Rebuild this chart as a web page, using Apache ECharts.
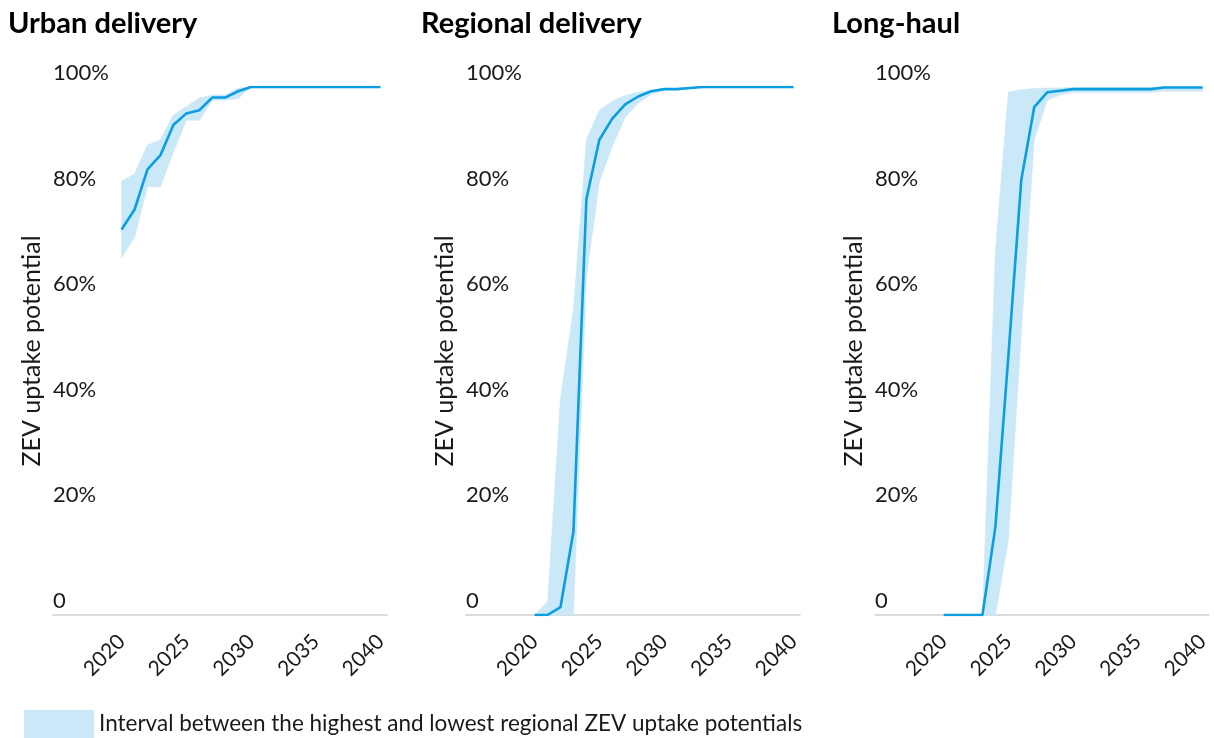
<!DOCTYPE html>
<html>
<head>
<meta charset="utf-8">
<script src="https://cdn.jsdelivr.net/npm/echarts@6/dist/echarts.min.js"></script>
<style>
  html, body { margin: 0; padding: 0; background: #ffffff; }
  #chart { width: 1214px; height: 738px; }
</style>
</head>
<body>
<div id="chart"></div>
<script>
// Years on the horizontal axis and the labelled ticks
const years = [2020, 2021, 2022, 2023, 2024, 2025, 2026, 2027, 2028, 2029, 2030,
               2031, 2032, 2033, 2034, 2035, 2036, 2037, 2038, 2039, 2040];
const xTickValues = [2020, 2025, 2030, 2035, 2040];
const yTickValues = [0, 0.2, 0.4, 0.6, 0.8, 1.0];

const panelTitles = ['Urban delivery', 'Regional delivery', 'Long-haul'];
const yAxisTitle = 'ZEV uptake potential';
const bandName = 'Interval between the highest and lowest regional ZEV uptake potentials';

// Urban delivery: central estimate plus highest / lowest regional values
const urbanCentral = [0.730, 0.768, 0.844, 0.871, 0.928, 0.950, 0.956, 0.980, 0.980, 0.992, 1.0,
                      1.0, 1.0, 1.0, 1.0, 1.0, 1.0, 1.0, 1.0, 1.0, 1.0];
const urbanHigh    = [0.822, 0.835, 0.890, 0.900, 0.947, 0.963, 0.979, 0.985, 0.985, 0.998, 1.0,
                      1.0, 1.0, 1.0, 1.0, 1.0, 1.0, 1.0, 1.0, 1.0, 1.0];
const urbanLow     = [0.677, 0.715, 0.811, 0.811, 0.877, 0.937, 0.937, 0.975, 0.975, 0.978, 1.0,
                      1.0, 1.0, 1.0, 1.0, 1.0, 1.0, 1.0, 1.0, 1.0, 1.0];

// Regional delivery
const regionalCentral = [0, 0, 0.015, 0.158, 0.788, 0.900, 0.940, 0.967, 0.982, 0.992, 0.996,
                         0.996, 0.998, 1.0, 1.0, 1.0, 1.0, 1.0, 1.0, 1.0, 1.0];
const regionalHigh    = [0, 0.025, 0.410, 0.580, 0.900, 0.956, 0.973, 0.984, 0.990, 0.994, 0.996,
                         0.997, 0.999, 1.0, 1.0, 1.0, 1.0, 1.0, 1.0, 1.0, 1.0];
const regionalLow     = [0, 0, 0, 0, 0.640, 0.820, 0.888, 0.943, 0.969, 0.986, 0.994,
                         0.996, 0.998, 1.0, 1.0, 1.0, 1.0, 1.0, 1.0, 1.0, 1.0];

// Long-haul
const longhaulCentral = [0, 0, 0, 0, 0.167, 0.490, 0.824, 0.962, 0.990, 0.993, 0.996,
                         0.996, 0.996, 0.996, 0.996, 0.996, 0.996, 0.999, 0.999, 0.999, 0.999];
const longhaulHigh    = [0, 0, 0, 0, 0.690, 0.990, 0.995, 0.997, 0.998, 0.998, 0.999,
                         0.999, 0.999, 0.999, 0.999, 0.999, 0.999, 1.0, 1.0, 1.0, 1.0];
const longhaulLow     = [0, 0, 0, 0, 0, 0.142, 0.534, 0.900, 0.975, 0.985, 0.990,
                         0.990, 0.990, 0.990, 0.990, 0.990, 0.990, 0.992, 0.992, 0.992, 0.992];

const panels = [
  { central: urbanCentral, high: urbanHigh, low: urbanLow },
  { central: regionalCentral, high: regionalHigh, low: regionalLow },
  { central: longhaulCentral, high: longhaulHigh, low: longhaulLow }
];

const FONT = 'Lato, "Noto Sans", sans-serif';
const TEXT = '#1a1a1a';
const LINE = '#0a9ee0';
const BAND = '#cae8f8';
const gridLefts = [53, 466, 875];
const titleLefts = [8, 421, 832];

const pairs = (vals) => years.map((y, i) => [y, vals[i]]);
const pctLabel = (v) => (v === 0 ? '0' : Math.round(v * 100) + '%');

// Band between lowest and highest values, drawn as one closed polygon
function bandRenderer(high, low) {
  return function (params, api) {
    if (params.dataIndex !== 0) return null;
    const pts = [];
    years.forEach((y, k) => pts.push(api.coord([y, high[k]])));
    for (let k = years.length - 1; k >= 0; k--) pts.push(api.coord([years[k], low[k]]));
    return {
      type: 'polygon',
      shape: { points: pts },
      style: { fill: BAND, stroke: BAND, lineWidth: 0.6 },
      silent: true
    };
  };
}

const grid = [], xAxis = [], yAxis = [], series = [], title = [];

panels.forEach((p, i) => {
  grid.push({ left: gridLefts[i], top: 87, width: 334, height: 528 });
  title.push({
    text: panelTitles[i], left: titleLefts[i], top: 9, padding: 0,
    textStyle: { fontFamily: FONT, fontSize: 29, fontWeight: 'bold', color: '#000' }
  });
  xAxis.push({
    type: 'value', gridIndex: i, min: 2014.7, max: 2040.5,
    axisLine: { show: true, lineStyle: { color: '#cfcfcf', width: 1.5 } },
    axisTick: { show: false },
    splitLine: { show: false },
    axisLabel: {
      customValues: xTickValues, rotate: 45, margin: 23,
      fontFamily: FONT, fontSize: 21, color: TEXT,
      formatter: (v) => String(v)
    }
  });
  yAxis.push({
    type: 'value', gridIndex: i, min: 0, max: 1, interval: 0.2,
    axisLine: { show: false },
    axisTick: { show: false },
    splitLine: { show: false },
    axisLabel: {
      customValues: yTickValues, inside: true, margin: 0, align: 'left',
      verticalAlign: 'bottom', padding: [0, 0, 3, 0],
      fontFamily: FONT, fontSize: 22, color: TEXT, formatter: pctLabel
    },
    name: yAxisTitle, nameLocation: 'middle', nameGap: 9,
    nameTextStyle: { fontFamily: FONT, fontSize: 25, color: TEXT }
  });

  series.push({
    name: bandName, type: 'custom', xAxisIndex: i, yAxisIndex: i,
    data: years.map((y, k) => [y, p.low[k], p.high[k]]),
    encode: { x: 0, y: [1, 2] },
    itemStyle: { color: BAND },
    renderItem: bandRenderer(p.high, p.low), z: 1, silent: true
  });
  series.push({
    type: 'line', xAxisIndex: i, yAxisIndex: i,
    data: pairs(p.central), symbol: 'none', silent: true,
    lineStyle: { color: LINE, width: 2.6 }, z: 3
  });
});

const chart = echarts.init(document.getElementById('chart'), null, { renderer: 'canvas' });
chart.setOption({
  animation: false,
  backgroundColor: '#ffffff',
  textStyle: { fontFamily: FONT },
  title,
  grid, xAxis, yAxis, series,
  legend: {
    data: [bandName], left: 24, top: 710, padding: 0,
    icon: 'rect', itemWidth: 70, itemHeight: 28,
    itemStyle: { color: BAND },
    textStyle: { fontFamily: FONT, fontSize: 22.5, color: TEXT },
    selectedMode: false
  }
});
</script>
</body>
</html>
